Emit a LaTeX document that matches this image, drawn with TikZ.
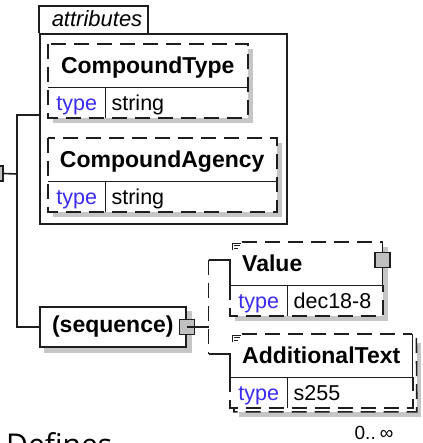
\documentclass[tikz,border=0pt]{standalone}
\usepackage{fontspec}
\setmainfont{Liberation Sans}
\newfontfamily\pagefont{Open Sans}
\usetikzlibrary{positioning,calc,backgrounds}
\definecolor{xsdLine}{HTML}{1E1E1E}
\definecolor{xsdShade}{HTML}{C6C6C6}
\definecolor{xsdKnob}{HTML}{C0C0C0}
\definecolor{xsdBlue}{HTML}{3B2CF2}

\begin{document}
\begin{tikzpicture}[
  x=1pt, y=-1pt,
  wire/.style={line width=1.6pt,color=xsdLine},
  dashwire/.style={wire,dash pattern=on 15pt off 8pt},
  namecell/.style={anchor=north west,inner sep=0pt,minimum height=43pt,font=\fontsize{23}{27}\selectfont\bfseries,text height=16.5pt,text depth=0pt},
  leftname/.style={namecell,inner xsep=12pt,text width=#1,align=left},
  keycell/.style={anchor=north west,inner sep=0pt,minimum width=57pt,minimum height=30pt,text=xsdBlue,font=\fontsize{21.5}{25}\selectfont,text height=16pt,text depth=0pt},
  valcell/.style={anchor=west,inner sep=0pt,inner xsep=6pt,text width=#1,align=left,minimum height=30pt,font=\fontsize{21.5}{25}\selectfont,text height=16pt,text depth=0pt},
  knob/.style={draw=xsdLine,fill=xsdKnob,line width=1.2pt,minimum size=15pt,inner sep=0pt},
  docmark/.style={line width=0.9pt,color=xsdLine}
]
\useasboundingbox (0,0) rectangle (422,443);

% attributes group
\node[font=\fontsize{22}{26}\selectfont\itshape,anchor=base] (attrlabel) at (97,27) {attributes};
\node[draw=xsdLine,line width=1.6pt,anchor=north west,minimum width=247pt,minimum height=190pt,inner sep=0pt] (attrs) at (39,33) {};
\coordinate (attrtab) at (148,6);
\coordinate (attrport) at (39,115);

\node[namecell,minimum width=199pt] (ctype) at (48,44) {CompoundType};
\node[keycell] (ctypekey) at (ctype.south west) {type};
\node[valcell=130pt,right=0pt of ctypekey] (ctypeval) {string};

\node[namecell,minimum width=228pt] (cagency) at (48,138) {CompoundAgency};
\node[keycell] (cagencykey) at (cagency.south west) {type};
\node[valcell=159pt,right=0pt of cagencykey] (cagencyval) {string};

% sequence and its children
\node[namecell,minimum height=40pt,minimum width=146pt,text height=12pt,draw=xsdLine,line width=1.6pt,fill=white] (seq) at (39,306) {(sequence)};

\node[leftname=128pt] (value) at (230,242) {Value};
\node[keycell] (valuekey) at (value.south west) {type};
\node[valcell=83pt,right=0pt of valuekey] (valueval) {dec18-8};

\node[leftname=158pt] (addtext) at (230,334) {AdditionalText};
\node[keycell] (addtextkey) at (addtext.south west) {type};
\node[valcell=113pt,right=0pt of addtextkey] (addtextval) {s255};
\node[font=\fontsize{19}{22}\selectfont,anchor=base] (addtextocc) at (374,439) {0..\hspace{4pt}∞};

\node[knob] (rootknob) at (-4.5,173.5) {};
\node[knob] (seqknob) at (seq.east) {};
\node[knob] (valueknob) at ([yshift=-18pt]value.north east) {};
\coordinate (rootfork) at (17,174);
\coordinate (seqfork) at ([xshift=22pt]seqknob.center);
\coordinate (valueport) at (value.north west |- valueknob);
\coordinate (addtextport) at ([yshift=-20pt]addtext.north west);

\node[font=\pagefont\fontsize{30}{36}\selectfont,anchor=base west,inner sep=0pt] (defines) at (6,455) {Defines};

% shadows
\begin{scope}[on background layer]
  \fill[xsdShade] ($(ctype.north west)+(5,5)$) rectangle ($(ctypeval.south east)+(5,5)$);
  \fill[white] (ctype.north west) rectangle (ctypeval.south east);
  \fill[xsdShade] ($(cagency.north west)+(5,5)$) rectangle ($(cagencyval.south east)+(5,5)$);
  \fill[white] (cagency.north west) rectangle (cagencyval.south east);
  \fill[xsdShade] ($(seq.north west)+(5,5)$) rectangle ($(seq.south east)+(5,5)$);
  \fill[xsdShade] ($(value.north west)+(5,5)$) rectangle ($(valueval.south east)+(5,5)$);
  \fill[white] (value.north west) rectangle (valueval.south east);
  \fill[xsdShade] ($(addtext.north west)+(9,9)$) rectangle ($(addtextval.south east)+(8,9)$);
  \fill[white] ($(addtext.north west)+(4,4)$) rectangle ($(addtextval.south east)+(4,4)$);
  \draw[dashwire] ($(addtext.north east)+(4,4)$) -- ($(addtextval.south east)+(4,4)$) -- ($(addtextkey.south west)+(4,4)$) -- ($(addtext.north west)+(4,4)$);
  \fill[white] (addtext.north west) rectangle (addtextval.south east);
\end{scope}

\draw[wire] (attrs.north west) |- (attrtab) -- (attrtab |- attrs.north);

\draw[dashwire] (ctype.north west) rectangle (ctypeval.south east);
\draw[wire] (ctype.south west) -- (ctype.south east);
\draw[wire] (ctypekey.north east) -- (ctypekey.south east);
\draw[dashwire] (cagency.north west) rectangle (cagencyval.south east);
\draw[wire] (cagency.south west) -- (cagency.south east);
\draw[wire] (cagencykey.north east) -- (cagencykey.south east);

\draw[dashwire] ([xshift=12pt]value.north west) -- (value.north east) -- (valueknob.north);
\draw[wire] (valueknob.south) -- (value.south east);
\draw[dashwire] (value.south west) -- (valuekey.south west) -- (valueval.south east) -- (valueval.north east);
\draw[wire] (value.south west) -- (value.south east);
\draw[wire] (valuekey.north east) -- (valuekey.south east);

\draw[dashwire] ([xshift=12pt]addtext.north west) -- (addtext.north east);
\draw[wire] (addtext.north east) -- (addtext.south east);
\draw[dashwire] (addtext.south west) -- (addtextkey.south west) -- (addtextval.south east) -- (addtextval.north east);
\draw[wire] (addtext.south west) -- (addtext.south east);
\draw[wire] (addtextkey.north east) -- (addtextkey.south east);

\foreach \el in {value,addtext} {
  \draw[docmark] ($(\el.north west)+(2,8)$) |- ($(\el.north west)+(11,1)$);
  \draw[docmark] ($(\el.north west)+(4,3.5)$) -- ++(6,0);
  \draw[docmark] ($(\el.north west)+(4,6)$) -- ++(4,0);
}

% connectors
\draw[wire] (rootknob.east) -- (rootfork);
\draw[wire] (rootfork) |- (attrport);
\draw[wire] (rootfork) |- (seq.west);
\draw[wire] (seqknob.center) -- (seqfork);
\draw[dashwire] (seqfork |- valueport) -- (seqfork |- addtextport);
\draw[wire] (seqfork |- valueport) -- (valueport) -- (value.south west);
\draw[wire] (seqfork |- addtextport) -- (addtextport) -- (addtext.south west);
\end{tikzpicture}
\end{document}
